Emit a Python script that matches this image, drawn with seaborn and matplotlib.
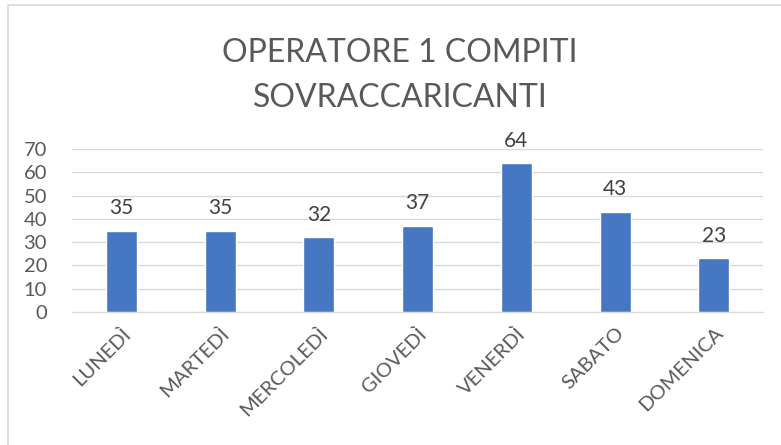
import matplotlib
matplotlib.use("Agg")
import matplotlib.pyplot as plt
import seaborn as sns
import pandas as pd
from matplotlib.lines import Line2D

days = ["LUNEDÌ", "MARTEDÌ", "MERCOLEDÌ", "GIOVEDÌ", "VENERDÌ", "SABATO", "DOMENICA"]
values = [35, 35, 32, 37, 64, 43, 23]
yticks = [0, 10, 20, 30, 40, 50, 60, 70]
title = "OPERATORE 1 COMPITI\nSOVRACCARICANTI"

sns.set_style("white")
plt.rcParams['font.family'] = ['Lato', 'DejaVu Sans']

df = pd.DataFrame({"day": days, "value": values})
fig = plt.figure(figsize=(7.81, 4.45), dpi=100)
ax = fig.add_axes([0.0922, 0.299, 0.885, 0.366])

sns.barplot(data=df, x="day", y="value", color="#4677C2", saturation=1, width=0.315, ax=ax)

txt = "#595959"
ax.set_ylim(0, 70)
ax.set_xlim(-0.5, len(days) - 0.5)
ax.set_yticks(yticks)
ax.set_yticklabels([str(t) for t in yticks], fontsize=14.5, color=txt)
ax.yaxis.grid(True, color="#d9d9d9", linewidth=1)
ax.set_axisbelow(True)
for s in ["top", "right", "left"]:
    ax.spines[s].set_visible(False)
ax.spines["bottom"].set_color("#d9d9d9")
ax.tick_params(axis="both", length=0)
ax.tick_params(axis="y", pad=18)
ax.set_xlabel("")
ax.set_ylabel("")
ax.set_xticks(range(len(days)))
ax.set_xticklabels(days, rotation=45, ha="right", rotation_mode="anchor",
                   fontsize=14.5, color=txt)
ax.tick_params(axis="x", pad=9)

for c in ax.containers:
    ax.bar_label(c, labels=[str(v) for v in values], padding=9, fontsize=15, color="#404040")

fig.text(0.512, 0.831, title, ha="center", va="center", fontsize=23,
         color=txt, linespacing=1.62)

fig.add_artist(Line2D([8/781, 8/781], [0, 1 - 5/445], transform=fig.transFigure,
                      color="#d9d9d9", linewidth=1.2))
fig.add_artist(Line2D([8/781, 1], [1 - 5/445, 1 - 5/445], transform=fig.transFigure,
                      color="#d9d9d9", linewidth=1.2))

fig.savefig("out.png", dpi=100)
